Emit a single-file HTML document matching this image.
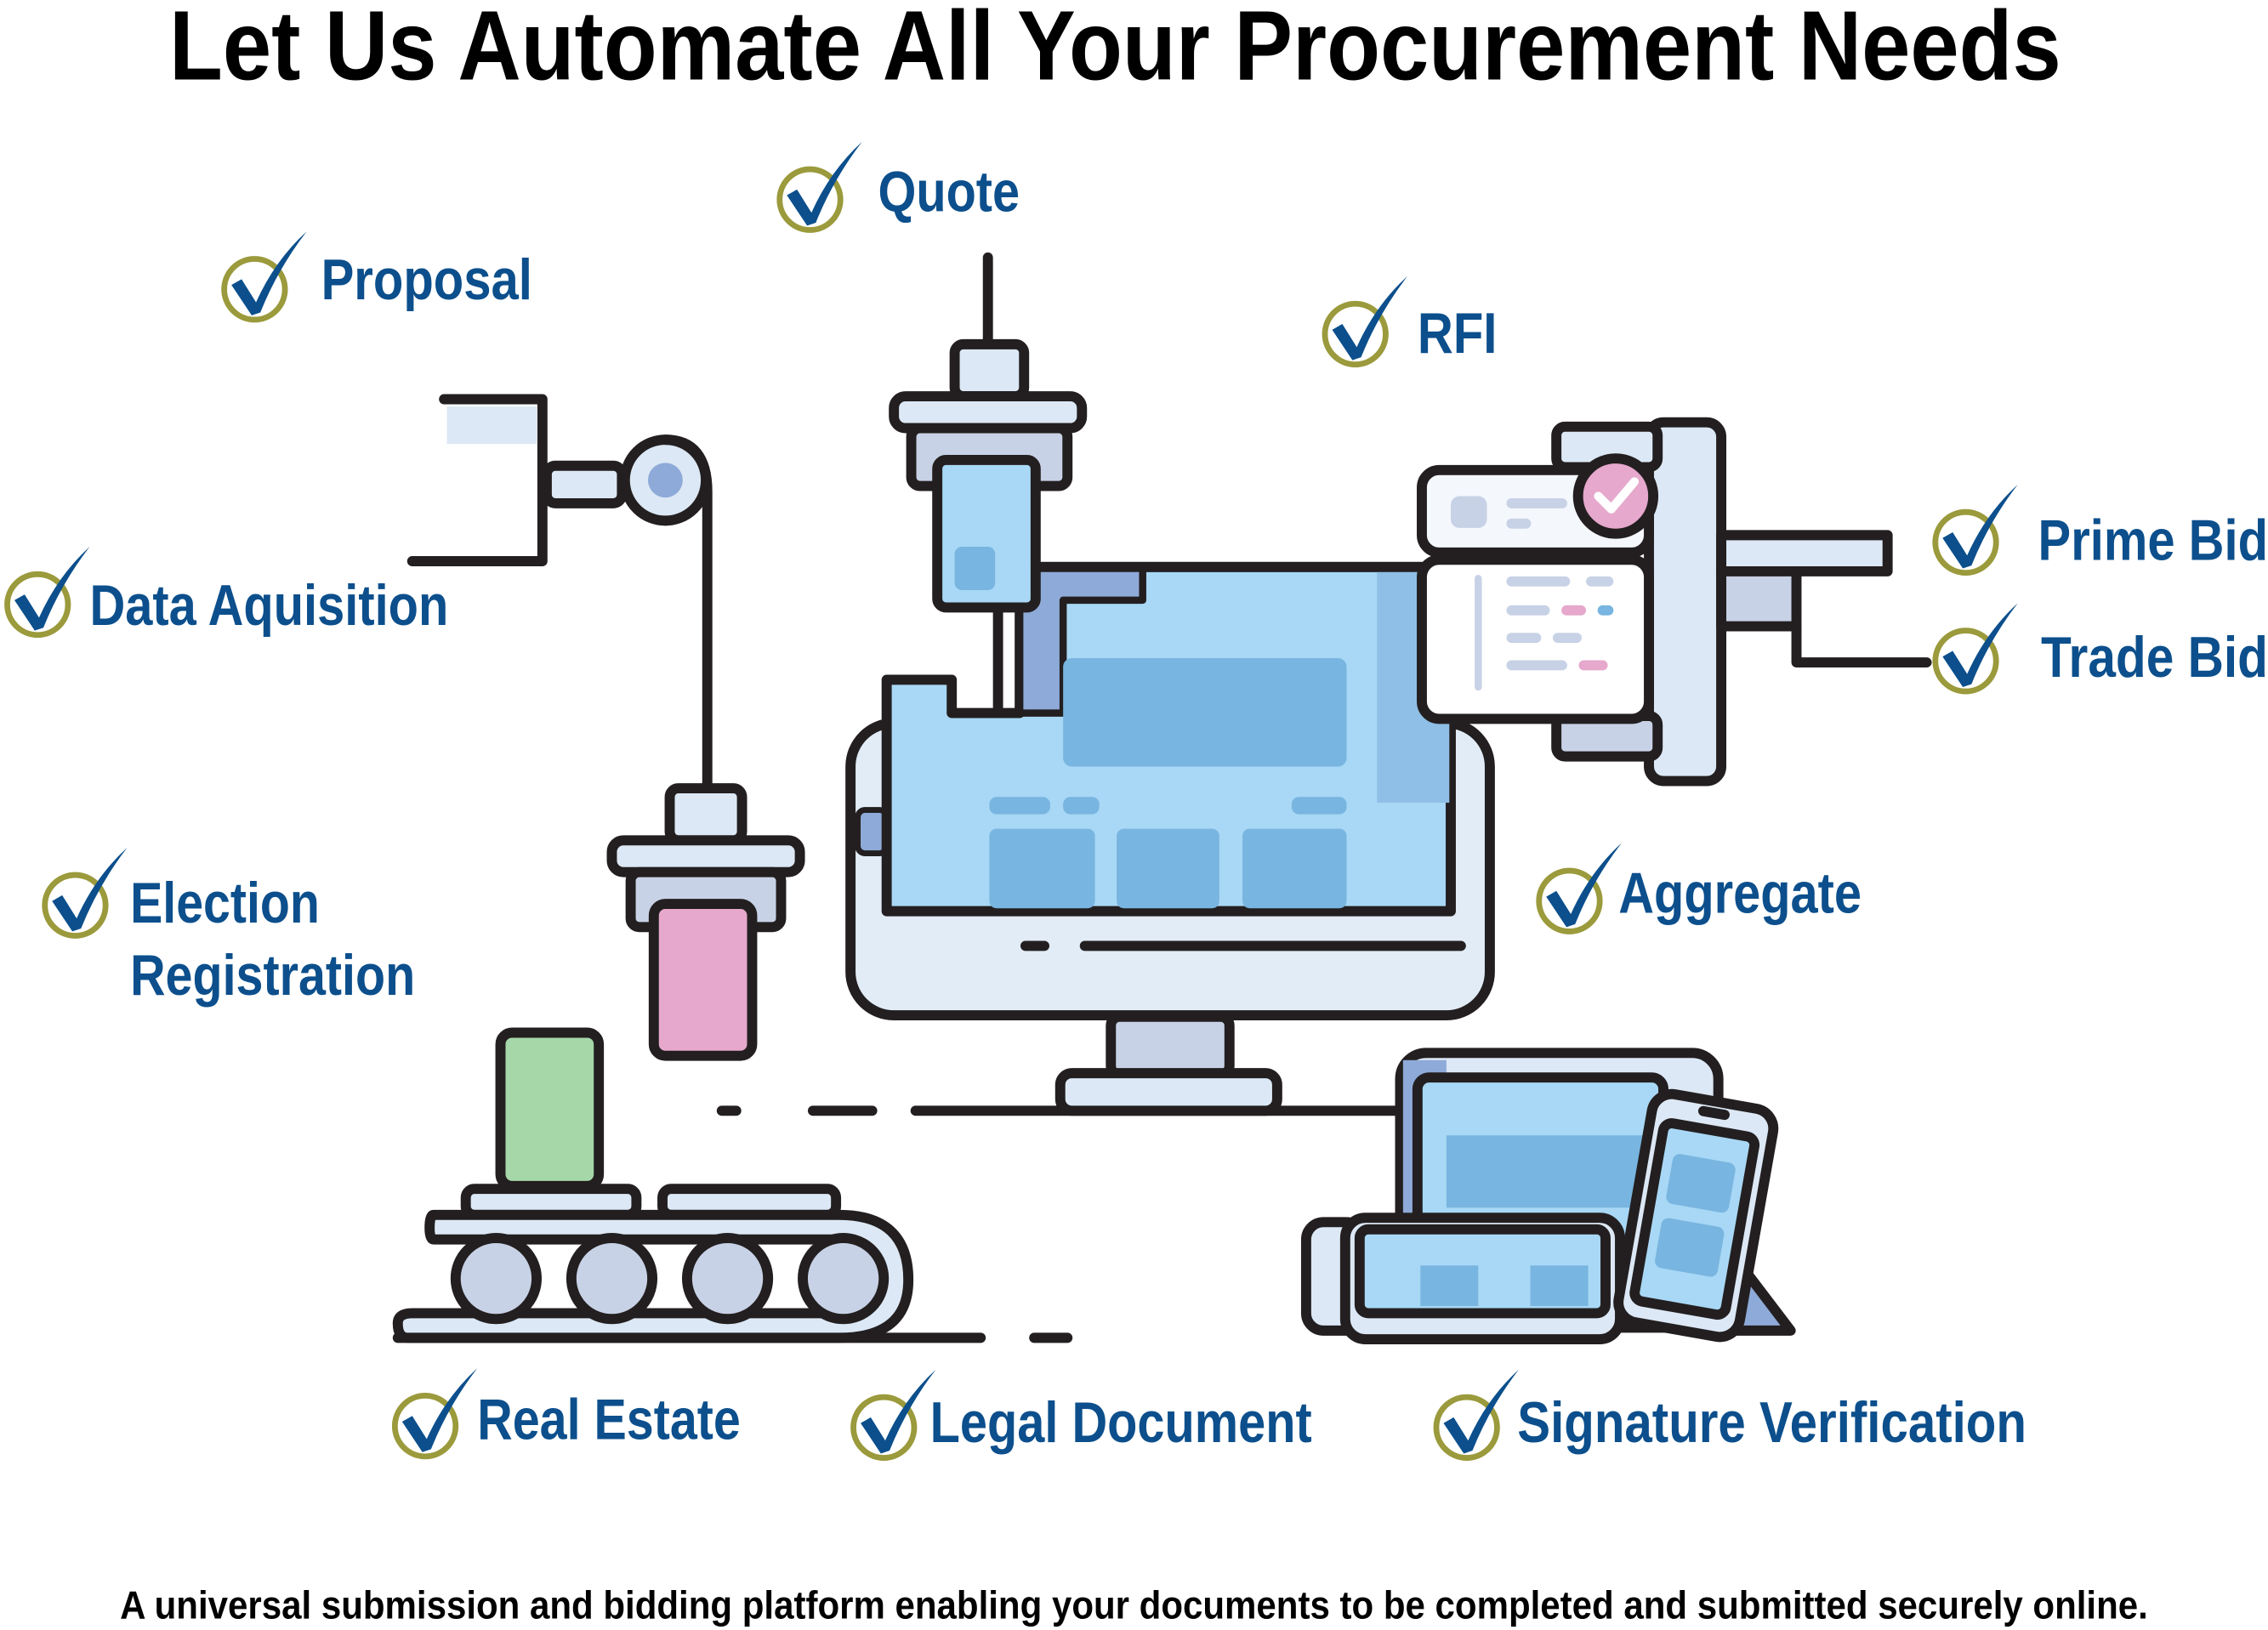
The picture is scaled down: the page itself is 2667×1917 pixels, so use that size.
<!DOCTYPE html>
<html><head><meta charset="utf-8"><style>
html,body{margin:0;padding:0;background:#fff;}
svg{display:block;}
.lab{font-family:"Liberation Sans Narrow","Liberation Sans",sans-serif;font-weight:bold;fill:#0c4f8c;font-size:40px;}
</style></head><body>
<svg width="2667" height="1917" viewBox="0 0 1568 1127" xmlns="http://www.w3.org/2000/svg">
<defs>
<g id="ck">
<circle cx="0" cy="0" r="21" fill="none" stroke="#9b9a3c" stroke-width="4"/>
<path d="M-16,-3 L-9,-7 L1,9 Q14,-20 36,-40 Q16,-14 4,16 L-2,18 Z" fill="#0c4f8c"/>
</g>
</defs>
<text x="117" y="55" font-family="Liberation Sans Narrow,Liberation Sans,sans-serif" font-weight="bold" font-size="68" textLength="1308" lengthAdjust="spacingAndGlyphs">Let Us Automate All Your Procurement Needs</text>

<g stroke="#231f20" stroke-width="7" stroke-linejoin="round" stroke-linecap="round">
<!-- ground lines -->
<line x1="633" y1="768" x2="975" y2="768"/>
<line x1="562" y1="768" x2="603" y2="768"/>
<line x1="499" y1="768" x2="509" y2="768"/>
<line x1="275" y1="925" x2="678" y2="925"/>
<line x1="715" y1="925" x2="738" y2="925"/>
<!-- monitor stand -->
<rect x="768" y="703" width="82" height="40" rx="6" fill="#c8d2e6"/>
<rect x="733" y="742" width="150" height="26" rx="8" fill="#dce8f5"/>
<!-- monitor body -->
<rect x="588" y="500" width="442" height="202" rx="30" fill="#e2ecf7"/>
<rect x="593" y="560" width="20" height="30" rx="5" fill="#8eaad8" stroke-width="4"/>
<path d="M613,470 L658,470 L658,493 L705,493 L705,392 L1003,392 L1003,630 L613,630 Z" fill="#a8d8f5"/>
<path d="M705,392 L790,392 L790,415 L735,415 L735,493 L705,493 Z" fill="#8eaad8" stroke-width="5"/>
<rect x="952" y="395" width="50" height="160" fill="#8fbfe6" stroke="none"/>
<rect x="735" y="455" width="196" height="75" rx="6" fill="#78b5e0" stroke="none"/>
<g fill="#78b5e0" stroke="none">
<rect x="684" y="551" width="42" height="12" rx="5"/><rect x="735" y="551" width="25" height="12" rx="5"/><rect x="893" y="551" width="38" height="12" rx="5"/>
<rect x="684" y="573" width="73" height="55" rx="5"/><rect x="772" y="573" width="71" height="55" rx="5"/><rect x="859" y="573" width="72" height="55" rx="5"/>
</g>
<line x1="709" y1="654" x2="722" y2="654"/>
<line x1="750" y1="654" x2="1010" y2="654"/>
<!-- quote dispenser -->
<line x1="683" y1="178" x2="683" y2="238"/>
<rect x="660" y="238" width="48" height="36" rx="6" fill="#dce8f5"/>
<rect x="618" y="274" width="130" height="22" rx="8" fill="#dce8f5"/>
<rect x="630" y="296" width="108" height="40" rx="6" fill="#c8d2e6"/>
<rect x="648" y="318" width="68" height="102" rx="6" fill="#a8d8f5"/>
<rect x="660" y="378" width="28" height="30" rx="5" fill="#78b5e0" stroke="none"/>
<line x1="690" y1="420" x2="690" y2="492"/>
<line x1="716" y1="392" x2="1003" y2="392"/>
<!-- left arm -->
<path d="M307,276 L375,276 L375,388 L285,388" fill="none"/>
<rect x="309" y="281" width="62" height="26" fill="#dce8f5" stroke="none"/>
<rect x="378" y="322" width="52" height="26" rx="6" fill="#dce8f5"/>
<circle cx="460" cy="332" r="28" fill="#dce8f5"/>
<circle cx="460" cy="332" r="12" fill="#8eaad8" stroke="none"/>
<path d="M460,304 Q489,304 489,340 L489,545" fill="none"/>
<rect x="463" y="545" width="50" height="36" rx="6" fill="#dce8f5"/>
<rect x="423" y="581" width="130" height="22" rx="8" fill="#dce8f5"/>
<rect x="436" y="603" width="104" height="38" rx="6" fill="#c8d2e6"/>
<rect x="452" y="625" width="68" height="105" rx="8" fill="#e6a8cc"/>
<!-- right panel -->
<rect x="1140" y="292" width="50" height="248" rx="10" fill="#dce8f5"/>
<rect x="1076" y="295" width="70" height="28" rx="6" fill="#dce8f5"/>
<rect x="1076" y="495" width="70" height="28" rx="6" fill="#c8d2e6"/>
<rect x="983" y="325" width="157" height="57" rx="12" fill="#f4f7fc"/>
<rect x="983" y="387" width="157" height="110" rx="12" fill="#ffffff"/>
<line x1="1022" y1="400" x2="1022" y2="475" stroke="#c8d2e6" stroke-width="5"/>
<g stroke-width="7" stroke-linecap="round">
<line x1="1045" y1="402" x2="1082" y2="402" stroke="#c8d2e6"/><line x1="1100" y1="402" x2="1112" y2="402" stroke="#c8d2e6"/>
<line x1="1045" y1="422" x2="1068" y2="422" stroke="#c8d2e6"/><line x1="1083" y1="422" x2="1093" y2="422" stroke="#e6a8cc"/><line x1="1108" y1="422" x2="1112" y2="422" stroke="#78b5e0"/>
<line x1="1045" y1="441" x2="1062" y2="441" stroke="#c8d2e6"/><line x1="1077" y1="441" x2="1090" y2="441" stroke="#c8d2e6"/>
<line x1="1045" y1="460" x2="1080" y2="460" stroke="#c8d2e6"/><line x1="1095" y1="460" x2="1108" y2="460" stroke="#e6a8cc"/>
<line x1="1045" y1="348" x2="1080" y2="348" stroke="#c8d2e6"/><line x1="1045" y1="362" x2="1055" y2="362" stroke="#c8d2e6"/>
</g>
<rect x="1003" y="343" width="25" height="22" rx="6" fill="#c8d2e6" stroke="none"/>
<circle cx="1117" cy="343" r="26" fill="#e6a8cc"/>
<path d="M1105,343 L1114,352 L1130,333" fill="none" stroke="#fff" stroke-width="6"/>
<rect x="1190" y="370" width="115" height="25" fill="#dce8f5"/>
<rect x="1190" y="395" width="52" height="38" fill="#c8d2e6"/>
<path d="M1242,433 L1242,458 L1332,458" fill="none"/>
<!-- conveyor -->
<rect x="346" y="714" width="68" height="106" rx="8" fill="#a6d7a8"/>
<rect x="322" y="822" width="118" height="18" rx="6" fill="#dce8f5"/>
<rect x="458" y="822" width="120" height="18" rx="6" fill="#dce8f5"/>
<path d="M300,840 L580,840 Q628,840 628,885 Q628,925 580,925 L282,925 Q275,925 275,915 Q275,908 285,908 L580,908 Q610,908 610,885 Q610,857 580,857 L300,857 Q297,857 297,849 Q297,840 300,840 Z" fill="#dce8f5"/>
<circle cx="343" cy="884" r="28" fill="#c8d2e6"/>
<circle cx="423" cy="884" r="28" fill="#c8d2e6"/>
<circle cx="503" cy="884" r="28" fill="#c8d2e6"/>
<circle cx="583" cy="884" r="28" fill="#c8d2e6"/>
<!-- devices -->
<rect x="968" y="728" width="220" height="190" rx="18" fill="#dce8f5"/>
<rect x="970" y="733" width="30" height="180" fill="#8eaad8" stroke="none"/>
<rect x="980" y="745" width="170" height="150" rx="8" fill="#a8d8f5"/>
<rect x="1000" y="785" width="140" height="50" fill="#78b5e0" stroke="none"/>
<rect x="903" y="845" width="40" height="75" rx="12" fill="#dce8f5"/>
<rect x="930" y="842" width="190" height="84" rx="14" fill="#dce8f5"/>
<rect x="940" y="850" width="170" height="58" rx="6" fill="#a8d8f5"/>
<rect x="982" y="875" width="40" height="28" fill="#78b5e0" stroke="none"/>
<rect x="1058" y="875" width="40" height="28" fill="#78b5e0" stroke="none"/>
<path d="M1200,870 L1238,920 L1190,920 Z" fill="#8eaad8"/>
<g transform="rotate(10 1170 840)">
<rect x="1130" y="760" width="85" height="160" rx="14" fill="#dce8f5"/>
<rect x="1140" y="780" width="64" height="125" rx="6" fill="#a8d8f5"/>
<rect x="1150" y="800" width="44" height="35" rx="5" fill="#78b5e0" stroke="none"/>
<rect x="1150" y="845" width="44" height="35" rx="5" fill="#78b5e0" stroke="none"/>
<line x1="1165" y1="768" x2="1180" y2="768"/>
</g>
</g>

<!-- labels -->
<use href="#ck" x="560" y="138"/><text class="lab" x="607" y="146" textLength="98" lengthAdjust="spacingAndGlyphs">Quote</text>
<use href="#ck" x="176" y="200"/><text class="lab" x="222" y="207" textLength="146" lengthAdjust="spacingAndGlyphs">Proposal</text>
<use href="#ck" x="937" y="231"/><text class="lab" x="980" y="244" textLength="55" lengthAdjust="spacingAndGlyphs">RFI</text>
<use href="#ck" x="26" y="418"/><text class="lab" x="62" y="432" textLength="248" lengthAdjust="spacingAndGlyphs">Data Aquisition</text>
<use href="#ck" x="1359" y="375"/><text class="lab" x="1409" y="387" textLength="159" lengthAdjust="spacingAndGlyphs">Prime Bid</text>
<use href="#ck" x="1359" y="457"/><text class="lab" x="1411" y="468" textLength="157" lengthAdjust="spacingAndGlyphs">Trade Bid</text>
<use href="#ck" x="52" y="626"/><text class="lab" x="90" y="638" textLength="131" lengthAdjust="spacingAndGlyphs">Election</text>
<text class="lab" x="90" y="688" textLength="197" lengthAdjust="spacingAndGlyphs">Registration</text>
<use href="#ck" x="1085" y="623"/><text class="lab" x="1119" y="631" textLength="168" lengthAdjust="spacingAndGlyphs">Aggregate</text>
<use href="#ck" x="294" y="986"/><text class="lab" x="330" y="995" textLength="182" lengthAdjust="spacingAndGlyphs">Real Estate</text>
<use href="#ck" x="611" y="987"/><text class="lab" x="643" y="997" textLength="264" lengthAdjust="spacingAndGlyphs">Legal Document</text>
<use href="#ck" x="1014" y="987"/><text class="lab" x="1049" y="997" textLength="352" lengthAdjust="spacingAndGlyphs">Signature Verification</text>

<text x="83" y="1119" font-family="Liberation Sans Narrow,Liberation Sans,sans-serif" font-weight="bold" font-size="27" textLength="1402" lengthAdjust="spacingAndGlyphs">A universal submission and bidding platform enabling your documents to be completed and submitted securely online.</text>
</svg>
</body></html>
